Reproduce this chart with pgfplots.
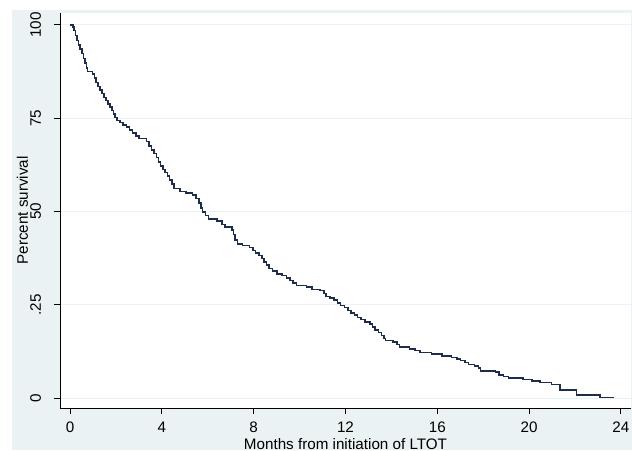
\documentclass[border=0pt]{standalone}
\usepackage{fontspec}
\setmainfont{Liberation Sans}
\usepackage{pgfplots}
\pgfplotsset{compat=1.18}
\definecolor{bgblue}{RGB}{234,242,243}
\definecolor{curvec}{RGB}{30,45,75}
\begin{document}
\begin{tikzpicture}
\useasboundingbox (0pt,0pt) rectangle (474pt,337.5pt);
\fill[white] (0pt,0pt) rectangle (474pt,337.5pt);
\fill[bgblue] (9pt,0pt) rectangle (474pt,330pt);
\fill[white] (45pt,31.5pt) rectangle (473.25pt,327.75pt);
\begin{axis}[
  at={(45pt,31.5pt)}, anchor=south west,
  scale only axis, width=428.25pt, height=296.25pt,
  xmin=-0.436, xmax=24.44, ymin=-2.68, ymax=103.2,
  axis lines=left, axis line style={-, black, line width=0.75pt},
  xtick={0,4,8,12,16,20,24}, xticklabels={0,4,8,12,16,20,24},
  ytick={0,25,50,75,100}, yticklabels={0,.25,50,75,100},
  tick align=outside, major tick length=4.5pt,
  tick style={black, line width=0.75pt},
  ymajorgrids, grid style={bgblue, line width=0.75pt},
  xticklabel style={font=\fontsize{11.4}{13}\selectfont, anchor=north, inner sep=0pt, yshift=-6pt},
  yticklabel style={font=\fontsize{11.4}{13}\selectfont, rotate=90, anchor=south, inner sep=0pt, yshift=9.5pt},
  xlabel={Months from initiation of LTOT},
  ylabel={Percent survival},
  xlabel style={font=\fontsize{11.4}{13}\selectfont, at={(axis description cs:0.5,0)}, anchor=north, inner sep=0pt, yshift=-23pt},
  ylabel style={font=\fontsize{11.4}{13}\selectfont, at={(axis description cs:0,0.5)}, anchor=south, inner sep=0pt, yshift=23.8pt},
]
\addplot[const plot, curvec, line width=1.15pt] coordinates {
(0,100) (0.12,99.4) (0.18,98.5) (0.24,97.2) (0.30,95.8) (0.36,94.6)
(0.44,93.5) (0.52,92.3) (0.59,91.0) (0.65,89.8) (0.71,88.5) (0.77,87.5)
(0.99,86.8) (1.06,85.8) (1.13,84.6) (1.21,83.5) (1.31,82.5) (1.39,81.6)
(1.47,80.6) (1.56,79.8) (1.66,78.8) (1.74,78.0) (1.82,77.1) (1.90,76.1)
(1.97,75.2) (2.05,74.4) (2.17,73.8) (2.32,73.2) (2.47,72.6) (2.60,71.8)
(2.73,71.0) (2.88,70.3) (3.01,69.5) (3.33,68.8) (3.45,67.5) (3.55,66.5)
(3.65,65.5) (3.76,64.5) (3.86,63.3) (3.94,62.2) (4.04,61.2) (4.14,60.4)
(4.24,59.5) (4.34,58.5) (4.44,57.3) (4.52,56.2) (4.80,55.3) (5.05,54.9)
(5.33,54.4) (5.50,53.5) (5.63,52.2) (5.71,51.0) (5.77,49.8) (5.91,48.9)
(6.03,48.0) (6.41,47.5) (6.61,46.5) (6.76,45.9) (7.05,45.0) (7.12,43.8)
(7.19,42.4) (7.29,41.3) (7.52,40.9) (7.82,40.4) (7.98,39.6) (8.08,38.9)
(8.23,38.2) (8.36,37.4) (8.46,36.5) (8.56,35.6) (8.66,34.7) (8.83,34.0)
(9.01,33.3) (9.24,32.8) (9.44,32.2) (9.59,31.5) (9.71,30.8) (9.87,30.2)
(10.30,29.7) (10.55,29.1) (10.90,28.8) (11.06,28.0) (11.16,27.2) (11.33,26.8)
(11.49,26.2) (11.66,25.5) (11.79,24.8) (11.96,24.2) (12.12,23.5) (12.24,22.8)
(12.40,22.2) (12.52,21.6) (12.67,21.0) (12.84,20.4) (13.07,19.8) (13.18,19.0)
(13.28,18.2) (13.43,17.6) (13.58,16.8) (13.68,16.0) (13.75,15.4) (14.08,15.0)
(14.24,14.3) (14.36,13.6) (14.79,13.1) (15.04,12.7) (15.24,12.2) (15.75,11.8)
(16.20,11.3) (16.61,10.9) (16.86,10.4) (17.01,10.0) (17.21,9.5) (17.37,9.0)
(17.62,8.6) (17.79,8.1) (17.89,7.3) (18.53,6.9) (18.68,6.2) (18.88,5.8)
(19.10,5.4) (19.74,5.0) (20.12,4.6) (20.47,4.1) (20.98,3.6) (21.35,2.1)
(22.06,0.8) (23.09,0.1) (23.68,0.1)
};
\end{axis}
\end{tikzpicture}
\end{document}
